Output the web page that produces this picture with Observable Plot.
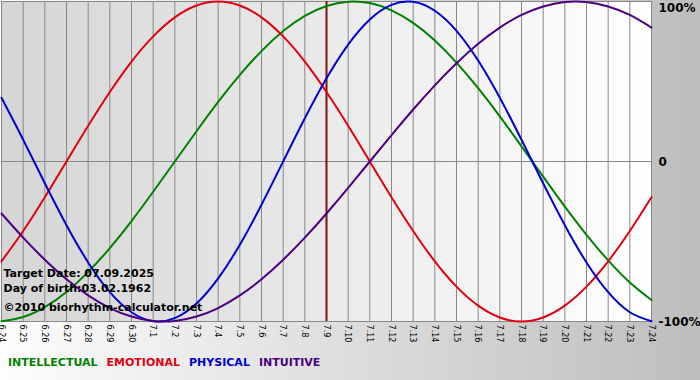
<!DOCTYPE html>
<html>
<head>
<meta charset="utf-8">
<script src="https://cdn.jsdelivr.net/npm/d3@7"></script>
<script src="https://cdn.jsdelivr.net/npm/@observablehq/plot@0.6"></script>
<style>
  html, body { margin: 0; padding: 0; }
  body { width: 700px; height: 380px; background: linear-gradient(to right, #fdfdfd, #bdbdbd); overflow: hidden; font-family: "DejaVu Sans", Verdana, sans-serif; }
  #legend { height: 35px; line-height: 36px; padding-left: 8px; font-size: 11px; font-weight: bold; white-space: nowrap; }
  #legend span { margin-right: 9px; }
</style>
</head>
<body>
<div id="chart"></div>
<div id="legend"></div>
<script>
const days = ["6.24","6.25","6.26","6.27","6.28","6.29","6.30","7.1","7.2","7.3","7.4","7.5","7.6","7.7","7.8","7.9","7.10","7.11","7.12","7.13","7.14","7.15","7.16","7.17","7.18","7.19","7.20","7.21","7.22","7.23","7.24"];
const intellectual = [-99.9,-97.2,-91.0,-81.5,-69.0,-54.1,-37.2,-18.9,0,18.9,37.2,54.1,69.0,81.5,91.0,97.2,99.9,99.0,94.5,86.6,75.6,61.8,45.8,28.2,9.5,-9.5,-28.2,-45.8,-61.8,-75.6,-86.6];
const emotional = [-62.4,-43.4,-22.3,0,22.3,43.4,62.4,78.2,90.1,97.5,100,97.5,90.1,78.2,62.4,43.4,22.3,0,-22.3,-43.4,-62.4,-78.2,-90.1,-97.5,-100,-97.5,-90.1,-78.2,-62.4,-43.4,-22.3];
const physical = [39.8,13.6,-13.6,-39.8,-63.1,-81.7,-94.2,-99.8,-97.9,-88.8,-73.1,-52.0,-27.0,0,27.0,52.0,73.1,88.8,97.9,99.8,94.2,81.7,63.1,39.8,13.6,-13.6,-39.8,-63.1,-81.7,-94.2,-99.8];
const intuitive = [-32.5,-47.6,-61.4,-73.6,-83.7,-91.6,-96.9,-99.7,-99.7,-96.9,-91.6,-83.7,-73.6,-61.4,-47.6,-32.5,-16.5,0,16.5,32.5,47.6,61.4,73.6,83.7,91.6,96.9,99.7,99.7,96.9,91.6,83.7];
const seriesNames = ["INTELLECTUAL","EMOTIONAL","PHYSICAL","INTUITIVE"];
const seriesColors = ["#008000","#e00010","#0000d0","#4b0082"];
const seriesValues = [intellectual, emotional, physical, intuitive];
const targetDay = "7.9";
const yTicks = [100, 0, -100];
const yTickLabels = ["100%", "0", "-100%"];
const infoLines = ["Target Date: 07.09.2025", "Day of birth:03.02.1962", "©2010 biorhythm-calculator.net"];

const dayIndex = days.map((d, i) => i);
const table = seriesNames.flatMap((s, k) => days.map((d, i) => ({series: s, idx: i, value: seriesValues[k][i]})));

const svg = Plot.plot({
  width: 700,
  height: 345,
  marginLeft: 1,
  marginRight: 49,
  marginTop: 1,
  marginBottom: 24,
  style: {background: "transparent", fontFamily: "DejaVu Sans, Verdana, sans-serif", overflow: "visible"},
  x: {type: "linear", domain: [0, days.length - 1], axis: null},
  y: {domain: [-100, 100], axis: null},
  color: {domain: seriesNames, range: seriesColors},
  marks: [
    Plot.frame({fill: "url(#bgGrad)", stroke: null}),
    Plot.ruleX(dayIndex, {x: d => d, stroke: "#888", strokeWidth: 1, strokeOpacity: 1}),
    Plot.ruleY([0], {stroke: "#888", strokeWidth: 1}),
    Plot.frame({stroke: "#888", strokeWidth: 1}),
    Plot.ruleX([days.indexOf(targetDay)], {stroke: "#7a1010", strokeWidth: 2}),
    Plot.line(table, {x: "idx", y: "value", z: "series", stroke: "series", strokeWidth: 2, curve: "natural"}),
    Plot.text([infoLines[0]], {text: d => d, frameAnchor: "bottom-left", lineAnchor: "bottom", textAnchor: "start", dx: 2, dy: -45, fontSize: 11, fontWeight: "bold", fill: "black"}),
    Plot.text([infoLines[1]], {text: d => d, frameAnchor: "bottom-left", lineAnchor: "bottom", textAnchor: "start", dx: 2, dy: -30, fontSize: 11, fontWeight: "bold", fill: "black"}),
    Plot.text([infoLines[2]], {text: d => d, frameAnchor: "bottom-left", lineAnchor: "bottom", textAnchor: "start", dx: 2, dy: -11, fontSize: 11, fontWeight: "bold", fill: "black"}),
    Plot.text([0], {y: d => yTicks[d], text: d => yTickLabels[d], frameAnchor: "right", textAnchor: "start", lineAnchor: "top", dx: 7, dy: 2, fontSize: 12, fontWeight: "bold", fill: "black"}),
    Plot.text([1, 2], {y: d => yTicks[d], text: d => yTickLabels[d], frameAnchor: "right", textAnchor: "start", lineAnchor: "middle", dx: 7, dy: 1, fontSize: 12, fontWeight: "bold", fill: "black"}),
    Plot.axisX({ticks: dayIndex, tickFormat: i => days[i], tickRotate: 90, tickSize: 0, tickPadding: 3, fontSize: 9, fontFamily: "DejaVu Sans Condensed, DejaVu Sans, sans-serif", fill: "black", label: null})
  ]
});
d3.select(svg).insert("defs", ":first-child").html('<linearGradient id="bgGrad" x1="0" x2="1" y1="0" y2="0"><stop offset="0" stop-color="#d5d5d5"/><stop offset="1" stop-color="#ffffff"/></linearGradient>');
document.getElementById("chart").appendChild(svg);

const legend = d3.select("#legend");
seriesNames.forEach((s, k) => legend.append("span").style("color", seriesColors[k]).text(s));
</script>
</body>
</html>
